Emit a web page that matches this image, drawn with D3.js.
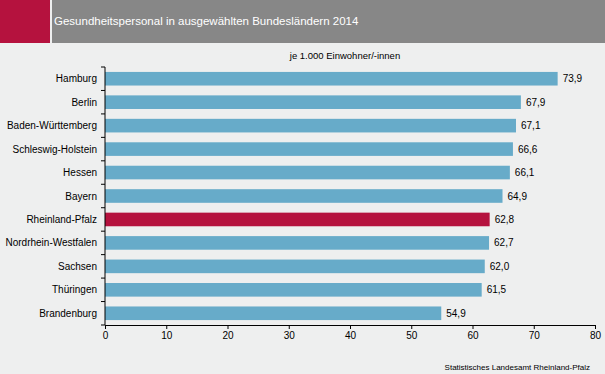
<!DOCTYPE html>
<html>
<head>
<meta charset="utf-8">
<script src="https://cdn.jsdelivr.net/npm/d3@7"></script>
<style>
  body { margin: 0; background: #eeefef; }
  svg { display: block; font-family: Arial, "Liberation Sans", sans-serif; }
</style>
</head>
<body>
<svg></svg>
<script>
const width = 605;
const height = 374;

const states = ['Hamburg', 'Berlin', 'Baden-Württemberg', 'Schleswig-Holstein', 'Hessen', 'Bayern',
                'Rheinland-Pfalz', 'Nordrhein-Westfalen', 'Sachsen', 'Thüringen', 'Brandenburg'];
const values = [73.9, 67.9, 67.1, 66.6, 66.1, 64.9, 62.8, 62.7, 62.0, 61.5, 54.9];
const xTicks = [0, 10, 20, 30, 40, 50, 60, 70, 80];
const highlight = 'Rheinland-Pfalz';

const data = states.map((s, i) => ({ state: s, value: values[i] }));

const svg = d3.select('svg')
    .attr('width', width)
    .attr('height', height);

svg.append('rect')
    .attr('width', width)
    .attr('height', height)
    .attr('fill', '#eeefef');

// header band
svg.append('rect')
    .attr('x', 0).attr('y', 0)
    .attr('width', 50).attr('height', 43)
    .attr('fill', '#b5123e');
svg.append('rect')
    .attr('x', 52).attr('y', 0)
    .attr('width', width - 52).attr('height', 43)
    .attr('fill', '#878787');
svg.append('text')
    .attr('x', 54)
    .attr('y', 25)
    .attr('fill', '#ffffff')
    .style('font-size', '11.5px')
    .text('Gesundheitspersonal in ausgewählten Bundesländern 2014');

const xScale = d3.scaleLinear()
    .domain([0, 80])
    .range([105, 595]);

const yScale = d3.scaleBand()
    .domain(states)
    .range([67, 325])
    .paddingInner(0.42)
    .paddingOuter(0.21);

// bars
svg.selectAll('rect.bar')
    .data(data)
    .enter()
    .append('rect')
        .attr('class', 'bar')
        .attr('x', xScale(0))
        .attr('y', d => yScale(d.state))
        .attr('width', d => xScale(d.value) - xScale(0))
        .attr('height', yScale.bandwidth())
        .attr('fill', d => d.state === highlight ? '#b5123e' : '#67abc9');

// value labels
svg.selectAll('text.val')
    .data(data)
    .enter()
    .append('text')
        .attr('class', 'val')
        .attr('x', d => xScale(d.value) + 5)
        .attr('y', d => yScale(d.state) + yScale.bandwidth() / 2)
        .attr('dy', '0.35em')
        .attr('fill', '#000')
        .style('font-size', '10px')
        .text(d => d3.format('.1f')(d.value).replace('.', ','));

// x axis
const xAxis = d3.axisBottom(xScale)
    .tickValues(xTicks)
    .tickSize(4)
    .tickSizeOuter(0)
    .tickFormat(d3.format('d'));

const gx = svg.append('g')
    .attr('transform', 'translate(0, 325)')
    .call(xAxis);
gx.select('.domain').attr('stroke', '#000');
gx.selectAll('.tick line').attr('stroke', '#000');
gx.selectAll('.tick text')
    .attr('y', 7)
    .style('font-size', '10px')
    .style('font-family', 'Arial, "Liberation Sans", sans-serif')
    .attr('fill', '#000');

// y axis: line with ticks at category boundaries
const step = yScale.step();
const firstEdge = yScale(states[0]) - yScale.paddingInner() * step / 2;
const boundaries = d3.range(states.length + 1).map(i => firstEdge + i * step);

svg.append('line')
    .attr('x1', 105).attr('x2', 105)
    .attr('y1', boundaries[0]).attr('y2', 325)
    .attr('stroke', '#000');
svg.selectAll('line.ytick')
    .data(boundaries)
    .enter()
    .append('line')
        .attr('class', 'ytick')
        .attr('x1', 101).attr('x2', 105)
        .attr('y1', d => d).attr('y2', d => d)
        .attr('stroke', '#000');

svg.selectAll('text.cat')
    .data(states)
    .enter()
    .append('text')
        .attr('class', 'cat')
        .attr('x', 97)
        .attr('y', d => yScale(d) + yScale.bandwidth() / 2)
        .attr('dy', '0.35em')
        .style('text-anchor', 'end')
        .style('font-size', '10px')
        .attr('fill', '#000')
        .text(d => d);

svg.append('text')
    .attr('x', 345)
    .attr('y', 59)
    .style('text-anchor', 'middle')
    .style('font-size', '9.5px')
    .attr('fill', '#000')
    .text('je 1.000 Einwohner/-innen');

svg.append('text')
    .attr('x', 590)
    .attr('y', 370)
    .style('text-anchor', 'end')
    .style('font-size', '8px')
    .attr('fill', '#000')
    .text('Statistisches Landesamt Rheinland-Pfalz');
</script>
</body>
</html>
